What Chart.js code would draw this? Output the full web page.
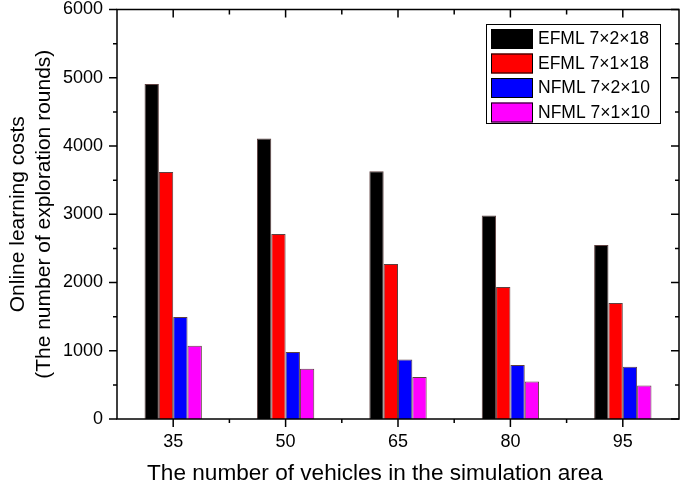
<!DOCTYPE html>
<html>
<head>
<meta charset="utf-8">
<script src="https://cdn.jsdelivr.net/npm/chart.js@4.4.0/dist/chart.umd.min.js"></script>
<style>
  html, body { margin: 0; padding: 0; background: #fff; }
  #wrap { width: 685px; height: 488px; }
</style>
</head>
<body>
<div id="wrap"><canvas id="myChart"></canvas></div>
<script>
const FONT = 'Arial, "Liberation Sans", sans-serif';

// Number of vehicles (x categories)
const vehicles = ['35', '50', '65', '80', '95'];

// Learning costs
const efml7x2x18 = [4910, 4110, 3630, 2980, 2550];
const efml7x1x18 = [3620, 2710, 2270, 1935, 1700];
const nfml7x2x10 = [1495, 980, 870, 790, 765];
const nfml7x1x10 = [1075, 735, 615, 550, 490];

const seriesLabels = ['EFML 7\u00d72\u00d718', 'EFML 7\u00d71\u00d718', 'NFML 7\u00d72\u00d710', 'NFML 7\u00d71\u00d710'];
const seriesColors = ['#000000', '#ff0000', '#0000ff', '#ff00ff'];

const yMin = 0;
const yMax = 6000;
const yStep = 1000;

const xTitle = 'The number of vehicles in the simulation area';

// frame, ticks, x title and the boxed legend inside the plot
const framePlugin = {
  id: 'frame',
  afterDraw(chart) {
    const c = chart.ctx;
    const area = chart.chartArea;
    const x = chart.scales.x;
    const y = chart.scales.y;
    c.save();
    c.strokeStyle = '#000';
    c.lineWidth = 1.5;
    c.strokeRect(area.left, area.top, area.right - area.left, area.bottom - area.top);

    c.beginPath();
    for (let v = yMin; v <= yMax; v += yStep / 2) {
      const py = y.getPixelForValue(v);
      const len = v % yStep === 0 ? 8 : 4;
      c.moveTo(area.left - len, py); c.lineTo(area.left, py);
      c.moveTo(area.right, py); c.lineTo(area.right - len, py);
    }
    for (let i = 0; i < vehicles.length; i++) {
      const px = x.getPixelForValue(i);
      c.moveTo(px, area.bottom); c.lineTo(px, area.bottom + 8);
      c.moveTo(px, area.top); c.lineTo(px, area.top + 8);
      if (i < vehicles.length - 1) {
        const mx = (px + x.getPixelForValue(i + 1)) / 2;
        c.moveTo(mx, area.bottom); c.lineTo(mx, area.bottom + 4);
        c.moveTo(mx, area.top); c.lineTo(mx, area.top + 5);
      }
    }
    c.stroke();

    // x axis title (sits a bit left of the plot centre in the original)
    c.fillStyle = '#000';
    c.font = '22.6px ' + FONT;
    c.textAlign = 'center';
    c.textBaseline = 'middle';
    c.fillText(xTitle, 375, 474);

    // legend box
    const bx = 486, by = 24, bw = 174, bh = 99;
    c.fillStyle = '#fff';
    c.fillRect(bx, by, bw, bh);
    c.lineWidth = 1;
    c.strokeRect(bx + 0.5, by + 0.5, bw, bh);
    c.font = '17.5px ' + FONT;
    c.textAlign = 'left';
    chart.data.datasets.forEach((ds, i) => {
      const ry = by + 5 + i * 24.5;
      c.fillStyle = ds.backgroundColor;
      c.fillRect(491, ry, 42, 20);
      c.strokeStyle = '#000';
      c.strokeRect(491.5, ry + 0.5, 41, 19);
      c.fillStyle = '#000';
      c.fillText(ds.label, 538, ry + 10.5);
    });
    c.restore();
  }
};

const ctx = document.getElementById('myChart');

const myChart = new Chart(ctx, {
  type: 'bar',
  data: {
    labels: vehicles,
    datasets: [efml7x2x18, efml7x1x18, nfml7x2x10, nfml7x1x10].map((vals, i) => ({
      label: seriesLabels[i],
      data: vals,
      backgroundColor: seriesColors[i],
      borderColor: 'rgba(40, 0, 0, 0.75)',
      borderWidth: 1,
      categoryPercentage: 0.51,
      barPercentage: 1.0,
    })),
  },
  options: {
    responsive: true,
    maintainAspectRatio: false,
    animation: false,
    layout: { padding: { left: 0, right: 6, top: 9.5, bottom: 0 } },
    plugins: {
      legend: { display: false },
      tooltip: { enabled: false },
    },
    scales: {
      x: {
        offset: true,
        grid: { display: false, drawTicks: false },
        border: { display: false },
        ticks: { color: '#000', padding: 12, font: { family: FONT, size: 18 } },
        afterFit(scale) {
          scale.height = 69;
          scale.paddingLeft = 0;
          scale.paddingRight = 0;
        },
      },
      y: {
        min: yMin,
        max: yMax,
        grid: { display: false, drawTicks: false },
        border: { display: false },
        ticks: {
          stepSize: yStep,
          color: '#000',
          padding: 14,
          font: { family: FONT, size: 18 },
          callback: (v) => String(v),
        },
        title: {
          display: true,
          text: ['Online learning costs', '(The number of exploration rounds)'],
          color: '#000',
          font: { family: FONT, size: 21, lineHeight: 1.2 },
          padding: { top: 6, bottom: 0 },
        },
        afterFit(scale) {
          scale.width = 117;
          scale.paddingTop = 0;
          scale.paddingBottom = 0;
        },
      },
    },
  },
  plugins: [framePlugin],
});
</script>
</body>
</html>
